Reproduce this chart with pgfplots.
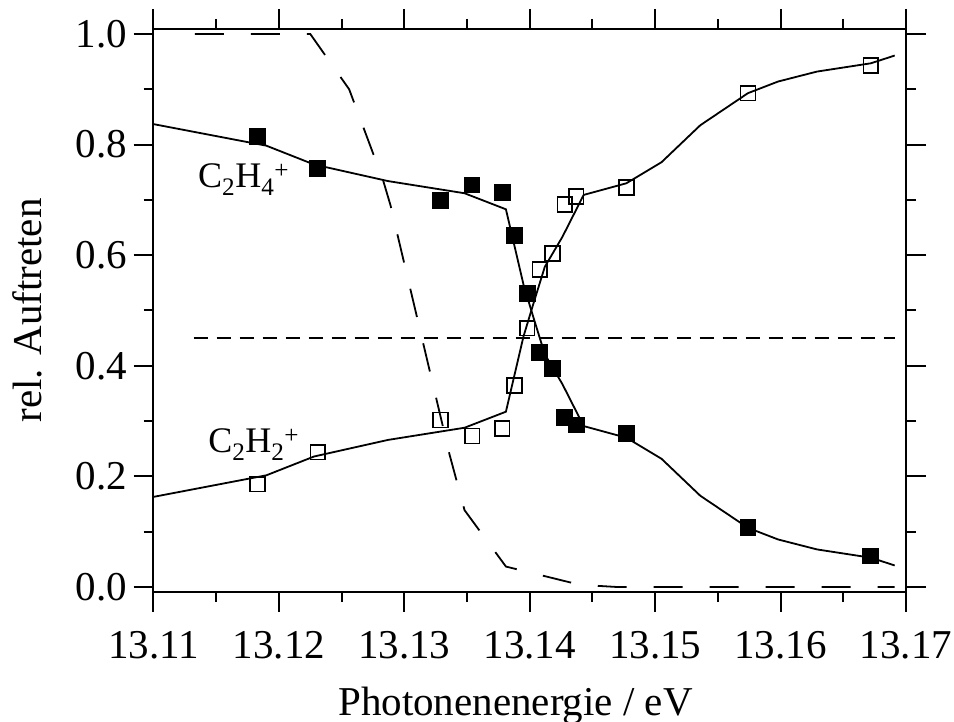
\documentclass[border=0pt]{standalone}
\usepackage{fontspec}
\setmainfont{Liberation Serif}
\usepackage{pgfplots}
\pgfplotsset{compat=1.18}
\usepackage{pgfplotstable}

\pgfplotstableread{
x y
13.1183 0.814
13.1231 0.757
13.1329 0.699
13.1354 0.727
13.1378 0.713
13.1388 0.635
13.1398 0.531
13.1408 0.424
13.1418 0.395
13.1428 0.307
13.1437 0.293
13.1477 0.278
13.1574 0.107
13.1672 0.056
}\ethylene

\pgfplotstableread{
x y
13.1183 0.186
13.1231 0.244
13.1329 0.302
13.1354 0.273
13.1378 0.287
13.1388 0.364
13.1398 0.468
13.1408 0.574
13.1418 0.603
13.1428 0.692
13.1437 0.706
13.1477 0.722
13.1574 0.893
13.1672 0.943
}\acetylene

\pgfplotstableread{
x y
13.1100 0.163
13.1190 0.202
13.1228 0.236
13.1287 0.266
13.1348 0.288
13.1381 0.317
13.1395 0.453
13.1403 0.513
13.1412 0.579
13.1426 0.633
13.1443 0.709
13.1477 0.730
13.1505 0.768
13.1536 0.835
13.1574 0.893
13.1598 0.914
13.1629 0.932
13.1672 0.947
13.1691 0.961
}\fitacetylene

\pgfplotstableread{
x y
13.1100 0.837
13.1190 0.798
13.1228 0.764
13.1287 0.734
13.1348 0.712
13.1381 0.683
13.1395 0.547
13.1403 0.487
13.1412 0.421
13.1426 0.367
13.1443 0.291
13.1477 0.270
13.1505 0.232
13.1536 0.165
13.1574 0.107
13.1598 0.086
13.1629 0.068
13.1672 0.053
13.1691 0.039
}\fitethylene

\pgfplotstableread{
x y
13.1133 1.000
13.1225 1.000
13.1256 0.900
13.1283 0.736
13.1289 0.690
13.1336 0.240
13.1348 0.139
13.1381 0.037
13.1440 0.004
13.1470 0.000
13.1691 0.000
}\profile

\pgfplotstableread{
x y
13.1132 0.45
13.1691 0.45
}\half

\begin{document}
\begin{tikzpicture}
\path[use as bounding box] (-153.5bp,-130bp) rectangle (800.5bp,592bp);
\begin{axis}[
  scale only axis,
  width=752.5bp, height=563bp,
  xmin=13.11, xmax=13.17, ymin=-0.009, ymax=1.009,
  xtick={13.11,13.12,13.13,13.14,13.15,13.16,13.17},
  xticklabels={13.11,13.12,13.13,13.14,13.15,13.16,13.17},
  ytick={0,0.2,0.4,0.6,0.8,1.0},
  yticklabels={0.0,0.2,0.4,0.6,0.8,1.0},
  minor x tick num=1, minor y tick num=1,
  tick align=outside, tick pos=both,
  major tick length=20bp, minor tick length=10bp,
  axis line style={line width=2bp, black},
  every tick/.style={line width=2bp, black},
  every tick label/.append style={font=\fontsize{41bp}{48bp}\selectfont},
  xticklabel style={yshift=-16bp},
  yticklabel style={xshift=-3bp},
  label style={font=\fontsize{41bp}{48bp}\selectfont},
  xlabel={Photonenenergie / eV},
  ylabel={rel. Auftreten},
  xlabel style={at={(axis description cs:0.481,-0.2185)}, anchor=base},
  ylabel style={at={(axis description cs:-0.1482,0.5)}, anchor=base},
  clip=false,
]
\addplot[black, line width=1.8bp] table {\fitethylene};
\addplot[black, line width=1.8bp] table {\fitacetylene};
\addplot[black, line width=1.8bp, dash pattern=on 29bp off 27bp] table {\profile};
\addplot[black, line width=1.8bp, dash pattern=on 14bp off 9bp] table {\half};
\addplot[only marks, mark=square*, mark size=7.9bp, mark options={fill=black, draw=black, line width=1bp}] table {\ethylene};
\addplot[only marks, mark=square, mark size=7.4bp, mark options={draw=black, fill=white, line width=1.7bp}] table {\acetylene};
\node[anchor=base west, inner sep=0pt, font=\fontsize{36bp}{42bp}\selectfont] at (axis cs:13.11355,0.7233) {C\textsubscript{2}H\textsubscript{4}\textsuperscript{+}};
\node[anchor=base west, inner sep=0pt, font=\fontsize{36bp}{42bp}\selectfont] at (axis cs:13.11435,0.244) {C\textsubscript{2}H\textsubscript{2}\textsuperscript{+}};
\end{axis}
\end{tikzpicture}
\end{document}
